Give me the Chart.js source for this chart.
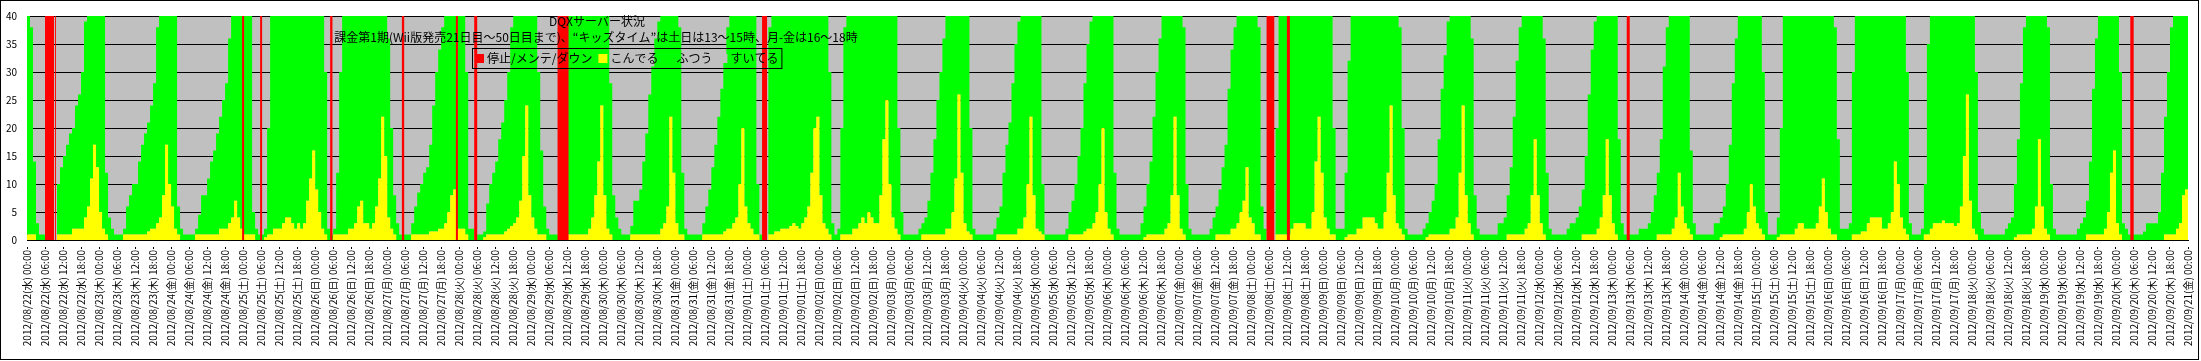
<!DOCTYPE html>
<html>
<head>
<meta charset="utf-8">
<script src="https://cdn.jsdelivr.net/npm/chart.js@4.4.0/dist/chart.umd.min.js"></script>
<style>
  body { margin: 0; background: #fff; }
  #wrap { width: 2201px; height: 361px; }
</style>
</head>
<body>
<div id="wrap"><canvas id="serverChart" width="2201" height="361"></canvas></div>
<script>
// DQX server status, hourly from 2012/08/22 00:00 to 2012/09/21 00:00

const FONT = '"Noto Sans CJK JP", "Noto Sans", sans-serif';
const TOTAL = 40;
const startDate = Date.UTC(2012, 7, 22);
const weekdays = ["日", "月", "火", "水", "木", "金", "土"];

const titleText = "DQXサーバー状況";
const subtitleText = "課金第1期(Wii版発売21日目〜50日目まで)、“キッズタイム”は土日は13〜15時、月-金は16〜18時";
const seriesLabels = ["停止/メンテ/ダウン", "こんでる", "ふつう", "すいてる"];
const seriesColors = ["#ff0000", "#ffff00", "#00ff00", "#c0c0c0"];

// servers that are not empty (crowded + normal), one row per day, 00:00 .. 23:00
const notEmpty = [
  [40,38,14,3,1,1,0,0,0,0,10,13,15,17,19,20,24,26,30,39,40,40,40,40], // 08/22
  [40,40,12,4,2,1,1,1,2,6,8,10,10,14,17,19,21,24,28,38,40,40,40,40],
  [40,40,6,2,1,1,1,1,2,4.5,8,8,11,14,16,19,22,25,28,36,40,40,40,40],
  [40,40,40,5,2,1,1,2,20,40,40,40,40,40,40,40,40,40,40,40,40,40,40,40],
  [40,40,40,30,2,1,2,12,30,40,40,40,40,40,40,40,40,40,40,40,40,40,40,40],
  [36,20,8,3,1,1,1,1,3,6,8.5,10,12,13,17,24,30,34,38,40,40,40,40,40], // 08/27
  [40,40,30,2,2,0,1,1,1.5,6.5,10,12,14,18,21,25,30,38,40,40,40,40,40,40],
  [40,40,30,16,6,2,1,1,1,0,0,0,40,40,40,40,40,40,40,40,40,40,40,40],
  [40,40,28,8,4,2,1,1,1,2.5,7,7,9,14,19,26,31,36,39,40,40,40,40,40],
  [40,38,12,2,1,1,1,1,1,3,6,9,13,17,22,27,32,38,40,40,40,40,40,40],
  [40,40,40,10,1,0,0,38,40,40,40,40,40,40,40,40,40,40,40,40,40,40,40,40], // 09/01
  [40,40,40,30,3,1,2,20,38,40,40,40,40,40,40,40,40,40,40,40,40,40,40,40],
  [40,40,20,5,1,1,1,1,1,2,3,4,7,12,18,25,30,36,40,40,40,40,40,40],
  [40,40,20,2,1,1,1,1,1,1,2,4,6,12,17,21,28,35,39,40,40,40,40,40],
  [40,40,10,1,1,1,1,1,1,1,2,5,7,10,15,20,28,35,39,40,40,40,40,40],
  [40,40,12,2,1,1,1,1,1,1,1,3,6,10,14,22,30,36,40,40,40,40,40,40], // 09/06
  [40,38,10,2,1,1,1,1,1,1,2,4,6,9,13,17,27,34,38,40,40,40,40,40],
  [40,40,38,6,2,0,0,0,20,40,40,40,40,40,40,40,40,40,40,40,40,40,40,40],
  [40,40,40,20,2,2,2,12,32,40,40,40,40,40,40,40,40,40,40,40,40,40,40,40],
  [40,38,20,2,1,1,1,1,1,2,3,5,7,10,18,27,33,39,40,40,40,40,40,40],
  [40,36,8,2,1,1,1,1,1,1,3,3,4,8,13,22,32,38,40,40,40,40,40,40], // 09/11
  [40,36,12,2,1,1,1,1,1,2,3,3,4,6,9,15,26,34,39,40,40,40,40,40],
  [40,40,18,3,1,1,1,1,1,2,2,2,3,5,8,12,18,31,38,40,40,40,40,40],
  [40,40,16,3,1,1,1,1,1,1,3,3,4,6,10,17,28,36,40,40,40,40,40,40],
  [40,40,30,5,1,1,1,4,20,40,40,40,40,40,40,40,40,40,40,40,40,40,40,40],
  [40,40,38,18,2,2,2,3,30,40,40,40,40,40,40,40,40,40,40,40,40,40,40,40], // 09/16
  [40,40,30,3,1,1,1,2,10,35,40,40,40,40,40,40,40,40,40,40,40,40,40,40],
  [40,30,5,2,1,1,1,1,1,1,1,2,3,4,10,18,28,38,40,40,40,40,40,40],
  [40,38,10,2,1,1,1,1,1,1,1,2,3,4,7,14,27,36,40,40,40,40,40,40],
  [40,30,3,2,1,1,1,1,1,1.5,3,3,3,3,5,12,22,30,38,40,40,40,40,40]  // 09/20
];

// crowded servers, one row per day
const crowded = [
  [1,1,1,0,0,0,0,0,0,0,1,1,1,1,1,2,2,2,2,4,6,11,17,13], // 08/22
  [5,2,1,0,0,0,0,0,1,1,1,1,1,1,1,1,1.5,2,2,3,4,8,17,10],
  [6,2,1,0,0,0,0,0,1,1,1,1,1,1,1,1,2,2,2,3,4,7,4,2],
  [1,1,1,1,0,0,0,0.5,1,1,2,2,2,3,4,4,3,2,3,2,3,7,11,16],
  [9,5,2,1,0,0,1,1,1,1,1,2,2,3,6,7,3,3,2,3,6,11,22,15],
  [4,2,1,0,0,0,0,0,1,1,1,1,1,1,1.5,1.5,1.5,2,2,3,5,8,9,2], // 08/27
  [2,2,1,0,0,0,0,0,0.5,1,1,1,1,1,1,1.5,2,2.5,3,4,7,15,24,8],
  [4,2,1,1,1,0,0,0,0,0,0,0,1,1,1,1,1,1,1,2,4,8,14,24],
  [8,2,1,0,0,0,0,0,0,1,1,1,1,1,1,1,1,1,1,2,3,6,22,12],
  [3,1,1,0,0,0,0,0,0,1,1,1,1,1,1,1,1.5,2,2,3,4,10,20,6],
  [3,2,1,1,0,0,0,1,1,1.5,1.5,2,2,2,2.5,3,2.5,2,3,4,6,12,20,22], // 09/01
  [8,3,2,1,0,0,0,1,1,1,1,2,2,3,4,3,5,4,3,3,8,18,25,10],
  [4,2,1,0,0,0,0,0,0,0,1,1,1,1,1,1,1,1,2,2,5,11,26,12],
  [3,1.5,1,0,0,0,0,0,0,0,0,1,1,1,1,1,1,1,2,2,4,10,22,8],
  [2,1.5,1,0,0,0,0,0,0,0,0,1,1,1,1,1,1.5,2,2,3,5,10,20,5],
  [2,1,0,0,0,0,0,0,0,0,0,0,0.5,1,1,1,1,1,1,2,3,8,22,8], // 09/06
  [2,1,0,0,0,0,0,0,0,0,0,0,1,1,1,1,1,2,2,3,5,7,13,4],
  [3,1,1,0,0,0,0,0,1,1,1,1,1,2,3,3,3,3,2,2,5,14,22,12],
  [4,2,1,1,0,0,0,0.5,1,1,1,2,2,4,4,4,4,3,2,2,5,12,24,8],
  [3,2,1,0,0,0,0,0,0,0,0.5,1,1,1,1,1,1,1,2,2,4,12,24,8],
  [3,1,0,0,0,0,0,0,0,0,0,0,0,1,1,1,1,1,1,2,3,8,18,8], // 09/11
  [3,1,0,0,0,0,0,0,0,0,0,0,0,0,1,1,1,1,1,2,4,8,18,8],
  [3,1,0,0,0,0,0,0,0,0,0,0,0,0,0,1,1,1,1,1,2,4,12,6],
  [3,2,1,0,0,0,0,0,0,0,0,0,0.5,1,1,1,1,1,1,1,2,5,10,6],
  [3,2,1,0,0,0,0,0.5,1,1,1,1,1,2,3,3,2,2,2,2,3,6,11,5],
  [2,1,1,0,0,0,0,0,1,1,1,1.5,1.5,3,4,4,4,4,2,2,3,5,14,10], // 09/16
  [4,2,1,0,0,0,0,0,1,1,2,3,3,3,3.5,3,3,3,2.5,3,6,15,26,7],
  [2,1,0,0,0,0,0,0,0,0,0,0,0,0,0.5,1,1,1,1,1,2,6,18,6],
  [2,1,0,0,0,0,0,0,0,0,0,0,0,0,1,1,1,1,1,1,2,5,12,16],
  [3,1,0,0,0,0,0,0,0,0,0,0,0,0,0,0,1,1,1,1,2,3,8,9]  // 09/20
];

// stops / maintenance / down, [from, to] in hours since 08/22 00:00
const downtimes = [
  [6, 9], [9.35, 9.65], [71.67, 72.33], [77.67, 78.33], [101, 101.77],
  [124.9, 125.67], [142.9, 143.57], [149, 150], [176.77, 180.43],
  [244.9, 246.57], [413, 415.57], [419.77, 420.77], [533, 534], [700.77, 701.9]
];

// Build hourly series
const inUse = notEmpty.flat();
const crowdedFlat = crowded.flat();
const HOURS = inUse.length;
const normalFlat = inUse.map((t, i) => t - crowdedFlat[i]);
const emptyFlat = inUse.map((t) => TOTAL - t);

const toSteps = (arr) => {
  const pts = arr.map((v, i) => ({ x: i, y: v }));
  pts.push({ x: arr.length, y: arr[arr.length - 1] });
  return pts;
};

const downSteps = [{ x: 0, y: 0 }];
downtimes.forEach(([from, to]) => {
  downSteps.push({ x: from, y: TOTAL }, { x: to, y: 0 });
});
downSteps.push({ x: HOURS, y: 0 });

const pad2 = (n) => String(n).padStart(2, "0");
const hourLabel = (h) => {
  const d = new Date(startDate + h * 3600 * 1000);
  return `${d.getUTCFullYear()}/${pad2(d.getUTCMonth() + 1)}/${pad2(d.getUTCDate())}(${weekdays[d.getUTCDay()]}) ${pad2(d.getUTCHours())}:${pad2(d.getUTCMinutes())}`;
};

const areaDefaults = {
  stepped: true,
  pointRadius: 0,
  borderWidth: 0,
  borderColor: "rgba(0,0,0,0)",
};

// Background, title, legend and frame
const overlay = {
  id: "overlay",
  beforeDraw(chart) {
    const { ctx, chartArea: a } = chart;
    ctx.save();
    ctx.fillStyle = "#ffffff";
    ctx.fillRect(0, 0, chart.width, chart.height);
    ctx.fillStyle = seriesColors[3];
    ctx.fillRect(a.left, a.top, a.right - a.left, a.bottom - a.top);
    ctx.restore();
  },
  afterDraw(chart) {
    const { ctx } = chart;
    ctx.save();
    ctx.font = `12px ${FONT}`;
    ctx.fillStyle = "#000";
    ctx.textBaseline = "middle";
    ctx.textAlign = "center";
    ctx.fillText(titleText, 597, 21);
    ctx.fillText(subtitleText, 596, 37, 548);

    ctx.textAlign = "left";
    let x = 475;
    chart.data.datasets.forEach((ds) => {
      ctx.fillStyle = ds.backgroundColor;
      ctx.fillRect(x, 54, 9, 9);
      ctx.fillStyle = "#000";
      ctx.fillText(ds.label, x + 12, 58.5);
      x += 12 + ctx.measureText(ds.label).width + 6;
    });
    ctx.strokeStyle = "#000";
    ctx.lineWidth = 1;
    ctx.strokeRect(472.5, 48.5, x - 475, 20);

    ctx.strokeRect(0.5, 0.5, 2198, 359);
    ctx.restore();
  },
};

Chart.defaults.font.family = FONT;
Chart.defaults.color = "#000";

new Chart(document.getElementById("serverChart"), {
  type: "line",
  data: {
    datasets: [
      { ...areaDefaults, label: seriesLabels[0], data: downSteps, backgroundColor: seriesColors[0], stack: "down", fill: "origin" },
      { ...areaDefaults, label: seriesLabels[1], data: toSteps(crowdedFlat), backgroundColor: seriesColors[1], stack: "servers", fill: "origin" },
      { ...areaDefaults, label: seriesLabels[2], data: toSteps(normalFlat), backgroundColor: seriesColors[2], stack: "servers", fill: "-1" },
      { ...areaDefaults, label: seriesLabels[3], data: toSteps(emptyFlat), backgroundColor: seriesColors[3], stack: "servers", fill: false },
    ],
  },
  options: {
    responsive: false,
    animation: false,
    events: [],
    layout: { padding: { top: 14, right: 13, left: 0, bottom: 0 } },
    plugins: {
      legend: { display: false },
      title: { display: false },
      tooltip: { enabled: false },
    },
    scales: {
      x: {
        type: "linear",
        min: 0,
        max: HOURS,
        afterFit: (scale) => { scale.height = 121; },
        ticks: {
          stepSize: 6,
          autoSkip: false,
          maxRotation: 90,
          minRotation: 90,
          padding: 1,
          font: { size: 10 },
          color: "#000",
          callback: (value) => hourLabel(value),
        },
        grid: {
          drawOnChartArea: false,
          drawTicks: true,
          tickLength: 9,
          tickColor: "#000",
          tickBorderDash: [0, 6, 3],
        },
        border: { color: "#000" },
      },
      y: {
        stacked: true,
        min: 0,
        max: TOTAL,
        afterFit: (scale) => { scale.width = 27; },
        ticks: {
          stepSize: 5,
          padding: 10,
          font: { size: 10 },
          color: "#000",
        },
        grid: {
          color: "#000",
          drawTicks: false,
        },
        border: { color: "#000" },
      },
    },
  },
  plugins: [overlay],
});
</script>
</body>
</html>
